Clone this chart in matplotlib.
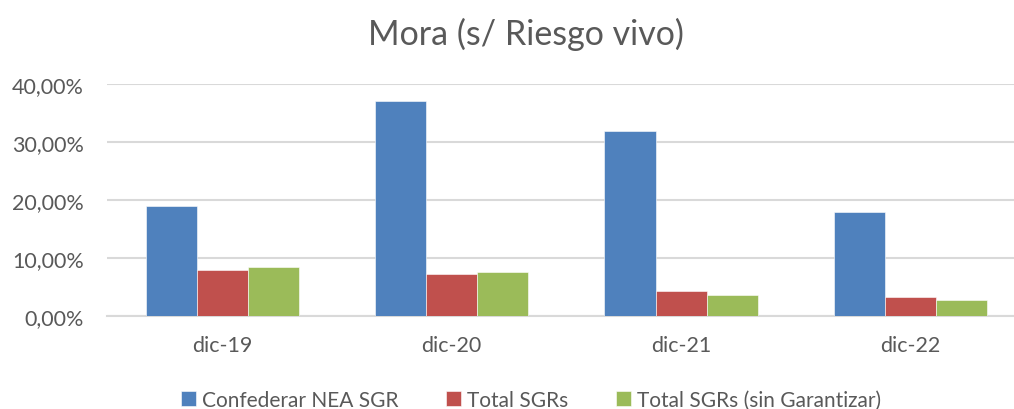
import matplotlib
matplotlib.use("Agg")
import matplotlib.pyplot as plt
import numpy as np
from matplotlib.ticker import FuncFormatter

categories = ["dic-19", "dic-20", "dic-21", "dic-22"]
series_names = ["Confederar NEA SGR", "Total SGRs", "Total SGRs (sin Garantizar)"]
confederar = [18.9, 36.97, 31.8, 17.95]
total_sgr = [7.8, 7.25, 4.2, 3.17]
total_sin_garantizar = [8.4, 7.6, 3.57, 2.65]
colors = ["#4F81BD", "#C0504D", "#9BBB59"]

plt.rcParams["font.family"] = ["Lato", "DejaVu Sans"]
TEXT = "#595959"

fig = plt.figure(figsize=(10.14, 4.10), dpi=100)
# plot area runs off the right edge, as in the cropped original
ax = fig.add_axes([0.1058, 0.2276, 0.8942, 0.5658])

x = np.arange(len(categories))
w = 0.2225
for i, (vals, name) in enumerate(zip([confederar, total_sgr, total_sin_garantizar], series_names)):
    ax.bar(x + (i - 1) * w, vals, width=w, color=colors[i], label=name,
           edgecolor="white", linewidth=0.4, zorder=3)

ax.set_xlim(-0.502, 3.452)
ax.set_ylim(0, 40)
ax.set_yticks([0, 10, 20, 30, 40])
ax.yaxis.set_major_formatter(FuncFormatter(lambda v, p: f"{v:.2f}%".replace(".", ",")))
ax.set_xticks(x)
ax.set_xticklabels(categories)
ax.grid(axis="y", color="#D9D9D9", linewidth=1.5, zorder=0)
ax.tick_params(axis="both", length=0, labelsize=15.5, colors=TEXT)
ax.tick_params(axis="x", pad=14)
ax.tick_params(axis="y", pad=17)
for s in ["top", "right", "left"]:
    ax.spines[s].set_visible(False)
ax.spines["bottom"].set_color("#D9D9D9")
ax.spines["bottom"].set_linewidth(1.5)

fig.text(0.519, 0.915, "Mora (s/ Riesgo vivo)", ha="center", va="center",
         fontsize=24.5, color=TEXT)

leg = fig.legend(loc="center", bbox_to_anchor=(0.524, 0.022), ncol=3, frameon=False,
                 fontsize=15, handlelength=0.7, handleheight=0.7, handletextpad=0.3,
                 columnspacing=2.3)
for t in leg.get_texts():
    t.set_color(TEXT)

fig.savefig("out.png", dpi=100)
